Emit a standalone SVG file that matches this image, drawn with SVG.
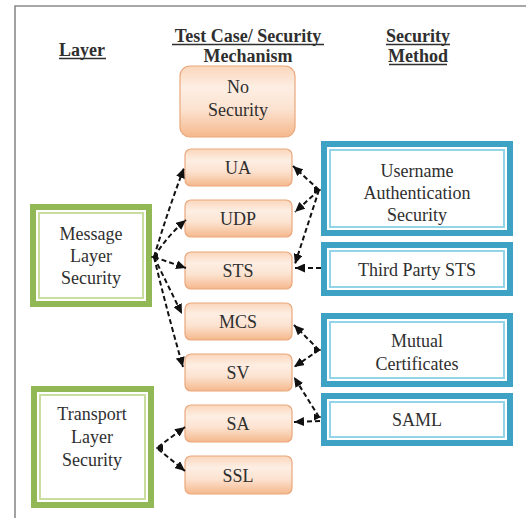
<svg xmlns="http://www.w3.org/2000/svg" width="526" height="518" viewBox="0 0 526 518">
<defs>
<linearGradient id="og" x1="0" y1="0" x2="0" y2="1">
<stop offset="0" stop-color="#fbd6bb"/>
<stop offset="0.3" stop-color="#fdeee3"/>
<stop offset="0.6" stop-color="#fce3d1"/>
<stop offset="1" stop-color="#f5b88c"/>
</linearGradient>
<marker id="ah" markerUnits="userSpaceOnUse" markerWidth="11" markerHeight="9" refX="10" refY="4.5" orient="auto">
<path d="M0,0 L10,4.5 L0,9 z" fill="#111"/>
</marker>
<marker id="ahs" markerUnits="userSpaceOnUse" markerWidth="8" markerHeight="8" refX="7" refY="3.5" orient="auto">
<path d="M0,0 L7,3.5 L0,7 z" fill="#111"/>
</marker>
<style>
text{font-family:"Liberation Serif","Times New Roman",serif;fill:#2f2f2f;text-anchor:middle}
.hd{font-size:18px;font-weight:bold}
.ul{fill:none;stroke:#2f2f2f;stroke-width:1.3}
.lb{font-size:18px}
.ob{fill:url(#og);stroke:#eaa77c;stroke-width:1.2}
.bo{fill:#fff;stroke:#3ea2c5;stroke-width:6}
.bi{fill:none;stroke:#92d4e8;stroke-width:2}
.go{fill:#fff;stroke:#92b855;stroke-width:6}
.gi{fill:none;stroke:#c8dd9f;stroke-width:2}
.cn{fill:none;stroke:#111;stroke-width:2;stroke-dasharray:5,3;marker-end:url(#ah)}
.jn{fill:none;stroke:#111;stroke-width:1;marker-end:url(#ahs)}
</style>
</defs>
<rect width="526" height="518" fill="#fff"/>
<path d="M15,518 L15,6 L526,6" fill="none" stroke="#8a8a8a" stroke-width="1.6"/>

<g id="headers">
<text class="hd" x="82" y="56">Layer</text>
<path class="ul" d="M59,58.5 H106"/>
<text class="hd" x="248" y="42">Test Case/ Security</text>
<path class="ul" d="M172,44.5 H324"/>
<text class="hd" x="248" y="62">Mechanism</text>
<text class="hd" x="418" y="42">Security</text>
<path class="ul" d="M386,44.5 H450"/>
<text class="hd" x="418" y="62">Method</text>
<path class="ul" d="M389,64.5 H447"/>
</g>

<g id="no-security">
<rect class="ob" x="180" y="66" width="115" height="71" rx="10"/>
<text class="lb" x="238" y="93">No</text>
<text class="lb" x="238" y="116">Security</text>
</g>
<g id="ua"><rect class="ob" x="185" y="149" width="107" height="37" rx="6"/><text class="lb" x="238" y="174">UA</text></g>
<g id="udp"><rect class="ob" x="185" y="200" width="107" height="37" rx="6"/><text class="lb" x="238" y="225">UDP</text></g>
<g id="sts"><rect class="ob" x="185" y="252" width="107" height="37" rx="6"/><text class="lb" x="238" y="277">STS</text></g>
<g id="mcs"><rect class="ob" x="185" y="303" width="107" height="37" rx="6"/><text class="lb" x="238" y="328">MCS</text></g>
<g id="sv"><rect class="ob" x="185" y="354" width="107" height="37" rx="6"/><text class="lb" x="238" y="379">SV</text></g>
<g id="sa"><rect class="ob" x="185" y="405" width="107" height="37" rx="6"/><text class="lb" x="238" y="430">SA</text></g>
<g id="ssl"><rect class="ob" x="185" y="456" width="107" height="38" rx="6"/><text class="lb" x="238" y="482">SSL</text></g>

<g id="message-layer">
<rect class="go" x="33" y="207" width="116" height="97"/>
<rect class="gi" x="39" y="213" width="104" height="85"/>
<text class="lb" x="91" y="240">Message</text>
<text class="lb" x="91" y="262">Layer</text>
<text class="lb" x="91" y="284">Security</text>
</g>
<g id="transport-layer">
<rect class="go" x="34" y="389" width="117" height="116"/>
<rect class="gi" x="40" y="395" width="105" height="104"/>
<text class="lb" x="92" y="420">Transport</text>
<text class="lb" x="92" y="443">Layer</text>
<text class="lb" x="92" y="466">Security</text>
</g>

<g id="username-auth">
<rect class="bo" x="324" y="144" width="186" height="89"/>
<rect class="bi" x="330" y="150" width="174" height="77"/>
<text class="lb" x="417" y="177">Username</text>
<text class="lb" x="417" y="199">Authentication</text>
<text class="lb" x="417" y="221">Security</text>
</g>
<g id="third-party-sts">
<rect class="bo" x="324" y="245" width="186" height="48"/>
<rect class="bi" x="330" y="251" width="174" height="36"/>
<text class="lb" x="417" y="276">Third Party STS</text>
</g>
<g id="mutual-certificates">
<rect class="bo" x="324" y="316" width="186" height="68"/>
<rect class="bi" x="330" y="322" width="174" height="56"/>
<text class="lb" x="417" y="347">Mutual</text>
<text class="lb" x="417" y="370">Certificates</text>
</g>
<g id="saml">
<rect class="bo" x="324" y="396" width="186" height="47"/>
<rect class="bi" x="330" y="402" width="174" height="35"/>
<text class="lb" x="417" y="426">SAML</text>
</g>

<g id="connectors">
<path class="jn" d="M158,257 L151,257"/>
<path class="cn" d="M154,257 Q168,210 184,168"/>
<path class="cn" d="M154,257 Q168,235 186,220"/>
<path class="cn" d="M154,257 L186,268"/>
<path class="cn" d="M154,257 L182,314"/>
<path class="cn" d="M154,257 Q168,315 183,367"/>

<path class="jn" d="M314,190 L321,190"/>
<path class="cn" d="M319,190 L293,166"/>
<path class="cn" d="M319,190 L295,212"/>
<path class="cn" d="M319,190 L295,264"/>
<path class="cn" d="M321,268 L295,268"/>

<path class="jn" d="M314,350 L321,350"/>
<path class="cn" d="M319,350 L294,325"/>
<path class="cn" d="M319,350 L294,367"/>

<path class="jn" d="M314,417 L321,417"/>
<path class="cn" d="M319,417 L294,377"/>
<path class="cn" d="M320,421 L294,422"/>

<path class="jn" d="M163,448 L156,448"/>
<path class="cn" d="M158,447 L185,427"/>
<path class="cn" d="M158,449 L185,471"/>
</g>
</svg>
